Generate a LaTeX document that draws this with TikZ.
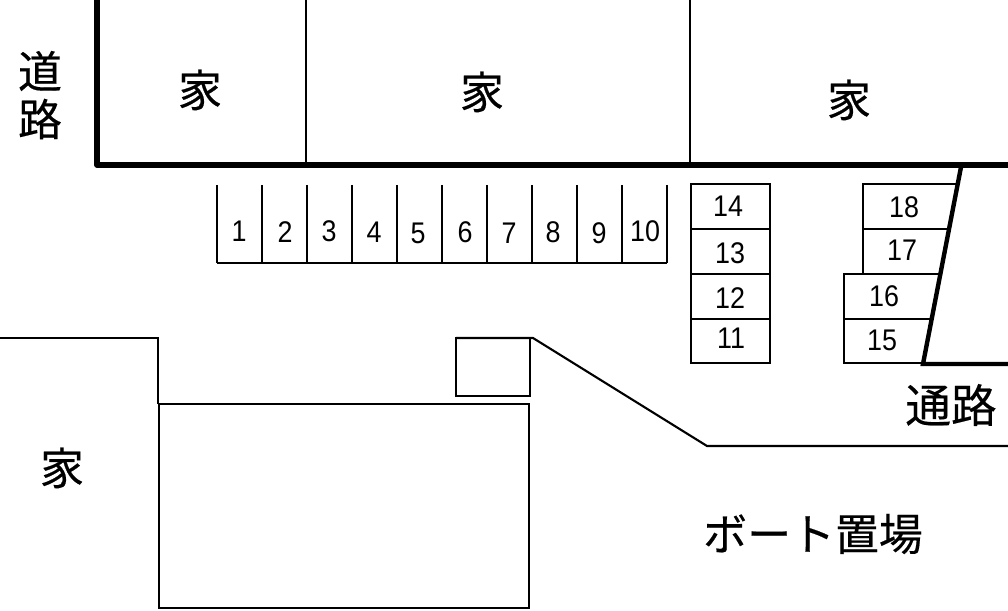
\documentclass[tikz,border=0pt]{standalone}
\usepackage{fontspec}
\newfontfamily\jpfont[FakeBold=0.4]{Noto Sans CJK JP}
\newfontfamily\numfont[FakeStretch=0.9]{Liberation Sans}
\tikzset{
    thinline/.style={black, line width=1pt},
    thickline/.style={black, line width=2.9pt},
    biglabel/.style={inner sep=0pt, font=\jpfont\fontsize{25}{25}\selectfont},
    numlabel/.style={inner sep=0pt, font=\numfont\fontsize{17}{17}\selectfont},
}
\begin{document}
\begin{tikzpicture}[x=0.02cm, y=-0.02cm]
    \useasboundingbox (0,0) rectangle (1008,611);
    % Road edge along the top houses
    \draw[thickline, line join=round] (97,0)--(97,165)--(1008,165);
    \draw[thinline] (306,0)--(306,165);
    \draw[thinline] (690,0)--(690,165);
    % Passage edge on the right
    \draw[thickline, line width=2.5pt] (961,167)--(923,364)--(1008,364);
    % Parking row 1 to 10
    \draw[thinline] (217,263)--(667,263);
    \foreach \i in {0,...,10} {
        \draw[thinline] (217+45*\i,185)--(217+45*\i,263);
    }
    \foreach \n/\x/\y in {1/239/231, 2/285/232, 3/329/231, 4/374/232, 5/418/233, 6/465/232, 7/509/233, 8/553/232, 9/599/233, 10/645/231} {
        \node[numlabel] (bay\n) at (\x,\y) {\n};
    }
    % Parking stack 11 to 14
    \draw[thinline] (691,184) rectangle (770,363);
    \foreach \y in {229,274,319} {
        \draw[thinline] (691,\y)--(770,\y);
    }
    \foreach \n/\x/\y in {14/728/206, 13/730/253, 12/730/298, 11/731/338} {
        \node[numlabel] (bay\n) at (\x,\y) {\n};
    }
    % Parking stack 15 to 18
    \draw[thinline] (956,184)--(863,184)--(863,274);
    \draw[thinline] (863,229)--(948,229);
    \draw[thinline] (939,274)--(844,274)--(844,363)--(923,363);
    \draw[thinline] (844,319)--(931,319);
    \foreach \n/\x/\y in {18/904/207, 17/902/250, 16/884/296, 15/882/340} {
        \node[numlabel] (bay\n) at (\x,\y) {\n};
    }
    % Lower left house and boat yard
    \draw[thinline, line width=1.2pt] (0,338)--(158,338)--(158,404);
    \draw[thinline] (159,404) rectangle (529,608);
    \draw[thinline] (456,338) rectangle (530,396);
    \draw[thinline, line width=1.2pt] (456,338)--(533,338)--(707,446)--(1008,446);
    % Labels
    \node[biglabel] (house1) at (200,90) {家};
    \node[biglabel] (house2) at (482,92) {家};
    \node[biglabel] (house3) at (849,100) {家};
    \node[biglabel] (house4) at (62,468) {家};
    \node[biglabel] (road1) at (40,71) {道};
    \node[biglabel] (road2) at (40,119) {路};
    \node[biglabel, font=\jpfont\fontsize{26}{26}\selectfont] (passage) at (951,405) {通路};
    \node[biglabel] (boatyard) at (813,534) {ボート置場};
\end{tikzpicture}
\end{document}
